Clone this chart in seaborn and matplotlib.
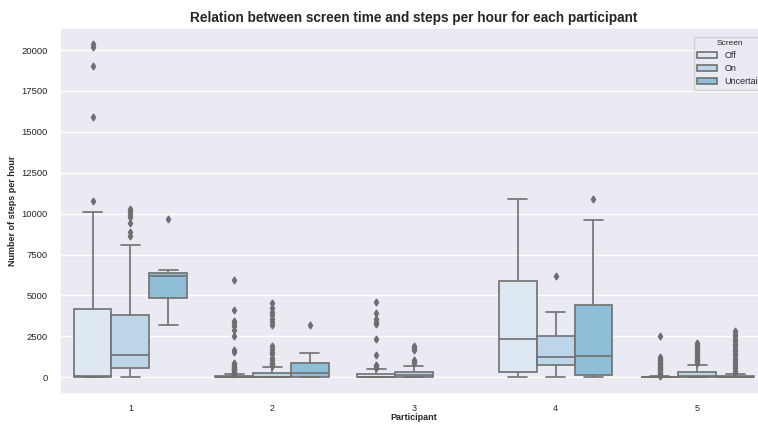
import pandas as pd
import matplotlib
matplotlib.use("Agg")
import matplotlib.pyplot as plt
import seaborn as sns

# participants and screen states
participants = ["1", "2", "3", "4", "5"]
screen_states = ["Off", "On", "Uncertain"]
palette = ["#dde8f3", "#bdd5e9", "#8fbfd8"]

# box summaries: (whisker low, q1, median, q3, whisker high)
off_boxes = [(0, 40, 90, 4200, 10100), (0, 0, 20, 80, 190), (0, 0, 30, 220, 530),
             (0, 300, 2370, 5900, 10900), (0, 0, 0, 30, 60)]
on_boxes = [(0, 550, 1380, 3780, 8100), (0, 0, 50, 280, 650), (0, 20, 120, 340, 700),
            (0, 750, 1250, 2550, 4000), (0, 0, 60, 300, 730)]
uncertain_boxes = [(3200, 4850, 6200, 6380, 6550), (0, 40, 280, 880, 1500), None,
                   (0, 150, 1300, 4400, 9600), (0, 0, 20, 90, 200)]

# outliers per participant
off_outliers = [
    [10750, 15900, 19000, 20200, 20350],
    [230, 280, 330, 380, 430, 480, 530, 580, 650, 720, 800, 880, 1550, 1650,
     2550, 2900, 3150, 3300, 3450, 4100, 5950],
    [600, 680, 780, 1380, 2350, 3250, 3400, 3550, 3900, 4600],
    [],
    [100, 180, 260, 340, 420, 500, 580, 660, 740, 820, 900, 980, 1060, 1150,
     1250, 2550],
]
on_outliers = [
    [8650, 8850, 9450, 9800, 10000, 10150, 10300],
    [720, 800, 900, 1050, 1200, 1400, 1550, 1750, 1900, 3200, 3350, 3550, 3800,
     4000, 4250, 4550],
    [850, 950, 1050, 1700, 1800, 1900],
    [6200],
    [880, 980, 1080, 1180, 1280, 1380, 1480, 1580, 1680, 1780, 1880, 1980, 2100],
]
uncertain_outliers = [
    [9650],
    [3200],
    [],
    [10900],
    [260, 400, 550, 700, 850, 1000, 1150, 1300, 1450, 1600, 1750, 1900, 2050,
     2200, 2350, 2500, 2650, 2800],
]


def expand_box(stats, outliers):
    """
    build a sample whose quartiles/whiskers match the read-off summary.
    """
    lo, q1, med, q3, hi = stats
    k = len(outliers) + 1
    return [lo] * k + [q1] * k + [med] + [q3] * k + [hi] + list(outliers)


rows = []
for state, boxes, outs in zip(screen_states,
                              [off_boxes, on_boxes, uncertain_boxes],
                              [off_outliers, on_outliers, uncertain_outliers]):
    for p, stats, o in zip(participants, boxes, outs):
        if stats is None:
            continue
        for v in expand_box(stats, o):
            rows.append({"Participant": p, "Screen": state, "Steps": v})
df = pd.DataFrame(rows)

sns.set_theme(style="darkgrid")
plt.rcParams["font.family"] = ["Liberation Sans", "DejaVu Sans"]

fig = plt.figure(figsize=(7.58, 4.25), dpi=100)
ax = fig.add_axes([0.0785, 0.073, 0.935, 0.862])

sns.boxplot(data=df, x="Participant", y="Steps", hue="Screen",
            order=participants, hue_order=screen_states, palette=palette,
            saturation=1, linecolor="#707070", linewidth=1.2,
            flierprops=dict(marker="d", markerfacecolor="#6e6e6e",
                            markeredgecolor="#6e6e6e", markersize=3.5),
            ax=ax)

ax.set_title("Relation between screen time and steps per hour for each participant",
             fontsize=9.8, fontweight="bold", pad=4)
ax.set_xlabel("Participant", fontsize=6.5, fontweight="bold", labelpad=0)
ax.set_ylabel("Number of steps per hour", fontsize=6.5, fontweight="bold", labelpad=3)
ax.tick_params(axis="x", labelsize=6.5, pad=1)
ax.tick_params(axis="y", labelsize=6.8, pad=2.5)
ax.set_yticks([0, 2500, 5000, 7500, 10000, 12500, 15000, 17500, 20000])

sns.move_legend(ax, "upper left", bbox_to_anchor=(689 / 758, 1 - 32 / 425),
                bbox_transform=fig.transFigure, fontsize=6.5, title_fontsize=6,
                labelspacing=0.45, handlelength=2.2)

fig.savefig("out.png", dpi=100)
plt.close(fig)
